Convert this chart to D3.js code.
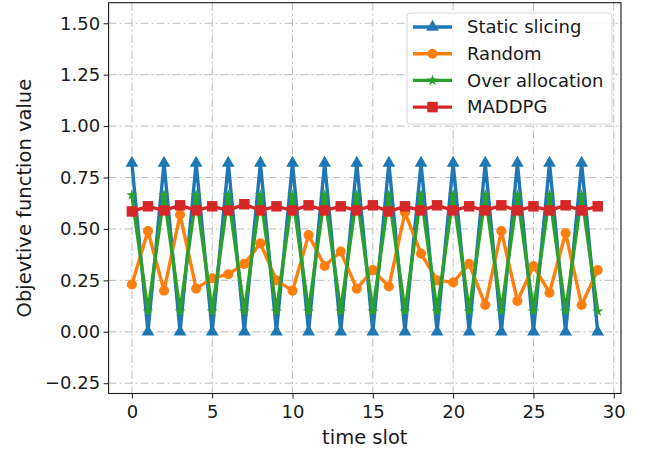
<!DOCTYPE html>
<html>
<head>
<meta charset="utf-8">
<script src="https://cdn.jsdelivr.net/npm/d3@7"></script>
<style>
body { margin: 0; background: #fff; }
text { font-family: "DejaVu Sans", sans-serif; fill: #1a1a1a; }
</style>
</head>
<body>
<div id="chart"></div>
<script>
// data
var timeSlots = d3.range(0, 30);
var staticSlicing = [0.82,0,0.82,0,0.82,0,0.82,0,0.82,0,0.82,0,0.82,0,0.82,0,0.82,0,0.82,0,0.82,0,0.82,0,0.82,0,0.82,0,0.82,0];
var randomAlloc = [0.23,0.49,0.20,0.57,0.21,0.26,0.28,0.33,0.43,0.25,0.20,0.47,0.32,0.39,0.21,0.30,0.22,0.58,0.38,0.25,0.24,0.33,0.13,0.49,0.15,0.32,0.19,0.48,0.13,0.30];
var overAlloc = [0.665,0.10,0.665,0.10,0.665,0.10,0.665,0.10,0.665,0.10,0.665,0.10,0.665,0.10,0.665,0.10,0.665,0.10,0.665,0.10,0.665,0.10,0.665,0.10,0.665,0.10,0.665,0.10,0.665,0.10];
var maddpg = [0.585,0.61,0.59,0.615,0.59,0.61,0.59,0.62,0.59,0.61,0.59,0.615,0.59,0.61,0.59,0.615,0.585,0.61,0.59,0.615,0.59,0.61,0.59,0.615,0.59,0.61,0.59,0.615,0.59,0.61];
var xTicks = [0, 5, 10, 15, 20, 25, 30];
var yTicks = [-0.25, 0, 0.25, 0.5, 0.75, 1.0, 1.25, 1.5];

var series = [
  {name: "Static slicing", values: staticSlicing, color: "#1f77b4", sym: d3.symbolTriangle, size: 70},
  {name: "Random", values: randomAlloc, color: "#ff7f0e", sym: d3.symbolCircle, size: 80},
  {name: "Over allocation", values: overAlloc, color: "#2ca02c", sym: d3.symbolStar, size: 40},
  {name: "MADDPG", values: maddpg, color: "#d62728", sym: d3.symbolSquare, size: 110}
];

var svgWidth = 646, svgHeight = 450;
var pLeft = 108.6, pRight = 621, pTop = 2.7, pBottom = 393.5;

var svg = d3.select("#chart").append("svg").attr("width", svgWidth).attr("height", svgHeight);

var x = d3.scaleLinear().domain([-1.45, 30.45]).range([pLeft, pRight]);
var y = d3.scaleLinear().domain([-0.3, 1.6]).range([pBottom, pTop]);

// grid
var grid = svg.append("g").attr("stroke", "#bdbdbd").attr("stroke-width", 1).attr("stroke-dasharray", "8,3,2,3");
grid.selectAll(".gx").data(xTicks).enter().append("line")
  .attr("x1", d => x(d)).attr("x2", d => x(d)).attr("y1", pTop).attr("y2", pBottom);
grid.selectAll(".gy").data(yTicks).enter().append("line")
  .attr("y1", d => y(d)).attr("y2", d => y(d)).attr("x1", pLeft).attr("x2", pRight);

// axes
var xAxis = svg.append("g").attr("transform", "translate(0," + pBottom + ")")
  .call(d3.axisBottom(x).tickValues(xTicks).tickSize(5).tickPadding(6.5).tickFormat(d3.format("d")));
var yAxis = svg.append("g").attr("transform", "translate(" + pLeft + ",0)")
  .call(d3.axisLeft(y).tickValues(yTicks).tickSize(5).tickPadding(3.5).tickFormat(d => d < 0 ? "\u2212" + d3.format(".2f")(-d) : d3.format(".2f")(d)));
[xAxis, yAxis].forEach(function(a) {
  a.select(".domain").remove();
  a.selectAll("text").style("font-size", "18px").attr("fill", "#1a1a1a");
  a.selectAll("line").attr("stroke", "#1a1a1a");
});

// lines + markers
series.forEach(function(s) {
  var line = d3.line().x((d, i) => x(timeSlots[i])).y(d => y(d));
  svg.append("path").datum(s.values)
    .attr("d", line).attr("fill", "none").attr("stroke", s.color).attr("stroke-width", 3.4)
    .attr("stroke-linejoin", "round");
  svg.append("g").selectAll("path").data(s.values).enter().append("path")
    .attr("d", d3.symbol().type(s.sym).size(s.size))
    .attr("transform", (d, i) => "translate(" + x(timeSlots[i]) + "," + y(d) + ")")
    .attr("fill", s.color);
});

// frame
svg.append("rect").attr("x", pLeft).attr("y", pTop).attr("width", pRight - pLeft).attr("height", pBottom - pTop)
  .attr("fill", "none").attr("stroke", "#1a1a1a").attr("stroke-width", 1.1);

// axis labels
svg.append("text").attr("x", (pLeft + pRight) / 2).attr("y", 437).attr("dy", ".35em")
  .attr("text-anchor", "middle").style("font-size", "19.5px").text("time slot");
svg.append("text").attr("transform", "translate(24," + (pTop + pBottom) / 2 + ") rotate(-90)")
  .attr("dy", ".35em").attr("text-anchor", "middle").style("font-size", "19.5px").text("Objevtive function value");

// legend
var lg = svg.append("g");
lg.append("rect").attr("x", 407).attr("y", 13).attr("width", 205).attr("height", 111).attr("rx", 3)
  .attr("fill", "#fff").attr("fill-opacity", 0.85).attr("stroke", "#d6d6d6");
series.forEach(function(s, i) {
  var cy = 27 + i * 26.7;
  lg.append("line").attr("x1", 413).attr("x2", 452).attr("y1", cy).attr("y2", cy)
    .attr("stroke", s.color).attr("stroke-width", 3.4);
  lg.append("path").attr("d", d3.symbol().type(s.sym).size(s.size))
    .attr("transform", "translate(432.5," + cy + ")").attr("fill", s.color);
  lg.append("text").attr("x", 467).attr("y", cy).attr("dy", ".35em").style("font-size", "18px").text(s.name);
});
</script>
</body>
</html>
